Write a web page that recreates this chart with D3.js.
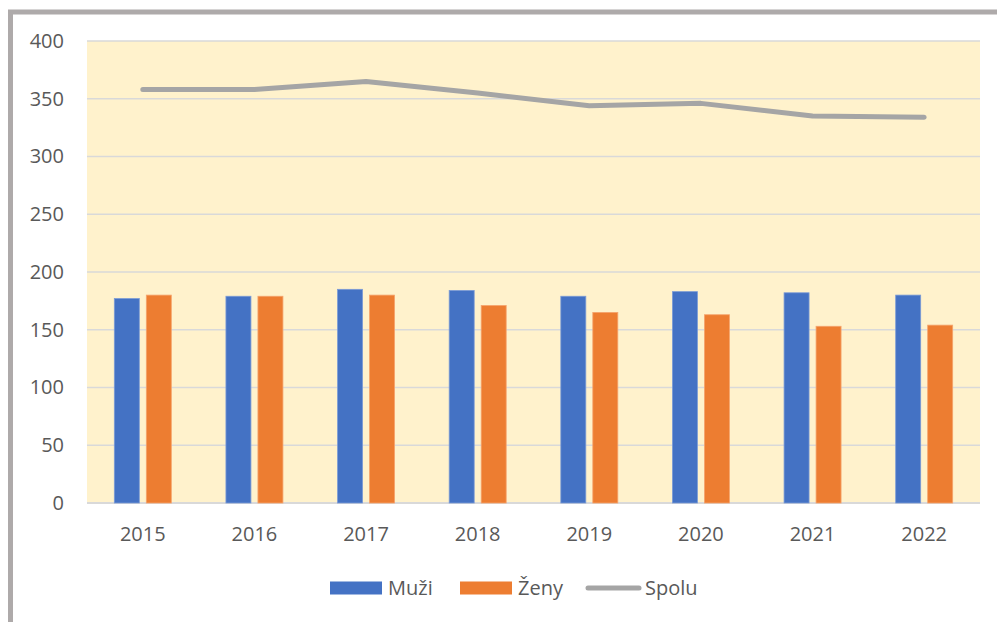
<!DOCTYPE html>
<html>
<head>
<meta charset="utf-8">
<script src="https://cdn.jsdelivr.net/npm/d3@7"></script>
<style>
  body { margin: 0; background: #fff; }
  svg { display: block; }
</style>
</head>
<body>
<div id="chart"></div>
<script>
const years = ["2015", "2016", "2017", "2018", "2019", "2020", "2021", "2022"];
const muzi = [177, 179, 185, 184, 179, 183, 182, 180];
const zeny = [180, 179, 180, 171, 165, 163, 153, 154];
const spolu = [358, 358, 365, 355, 344, 346, 335, 334];
const yTicks = [0, 50, 100, 150, 200, 250, 300, 350, 400];
const seriesNames = ["Muži", "Ženy", "Spolu"];

const W = 997, H = 622;
const margin = {top: 41, right: 17, bottom: 119, left: 87};
const colors = {"Muži": "#4472c4", "Ženy": "#ed7d31", "Spolu": "#a5a5a5"};
const labelFont = "'Open Sans', sans-serif";

const svg = d3.select("#chart").append("svg")
    .attr("width", W).attr("height", H);

// frame of the surrounding box
svg.append("path")
    .attr("d", "M10.5," + H + " L10.5,12 L" + W + ",12")
    .attr("fill", "none")
    .attr("stroke", "#aeaaaa")
    .attr("stroke-width", 5);

const x = d3.scaleBand().domain(years).range([margin.left, W - margin.right]);
const y = d3.scaleLinear().domain([0, 400]).range([H - margin.bottom, margin.top]);
const sub = d3.scaleBand().domain(["Muži", "Ženy"]).range([0, 57]).paddingInner(7 / 32);

// plot background
svg.append("rect")
    .attr("x", margin.left).attr("y", y(400))
    .attr("width", W - margin.right - margin.left)
    .attr("height", y(0) - y(400))
    .attr("fill", "#fff2cc");

// gridlines
svg.append("g")
    .selectAll("line")
    .data(yTicks)
    .enter()
    .append("line")
    .attr("x1", margin.left).attr("x2", W - margin.right)
    .attr("y1", d => y(d)).attr("y2", d => y(d))
    .attr("stroke", "#d9d9d9")
    .attr("stroke-width", d => d === 0 ? 2 : 1.5);

// y axis labels
const yAxis = svg.append("g")
    .attr("transform", "translate(64,0)")
    .call(d3.axisLeft(y).tickValues(yTicks).tickSize(0).tickPadding(0));
yAxis.select(".domain").remove();
yAxis.selectAll("text")
    .attr("fill", "#595959")
    .style("font-family", labelFont)
    .style("font-size", "20px");

// x axis labels
const xAxis = svg.append("g")
    .attr("transform", "translate(0," + y(0) + ")")
    .call(d3.axisBottom(x).tickSize(0).tickPadding(24));
xAxis.select(".domain").remove();
xAxis.selectAll("text")
    .attr("fill", "#595959")
    .style("font-family", labelFont)
    .style("font-size", "20px");

// bars
const rows = years.map((yr, i) => ({year: yr, "Muži": muzi[i], "Ženy": zeny[i]}));
const groups = svg.append("g")
    .selectAll("g")
    .data(rows)
    .enter()
    .append("g")
    .attr("transform", d => "translate(" + (x(d.year) + x.bandwidth() / 2 - 28.5) + ",0)");

groups.selectAll("rect")
    .data(d => ["Muži", "Ženy"].map(k => ({key: k, value: d[k]})))
    .enter()
    .append("rect")
    .attr("x", d => sub(d.key))
    .attr("y", d => y(d.value))
    .attr("width", sub.bandwidth())
    .attr("height", d => y(0) - y(d.value))
    .attr("fill", d => colors[d.key])
    .attr("stroke", d => d.key === "Muži" ? "#7b9bd6" : "#f5a46d")
    .attr("stroke-width", 0.8);

// total line
const line = d3.line()
    .x((d, i) => x(years[i]) + x.bandwidth() / 2)
    .y(d => y(d));
svg.append("path")
    .datum(spolu)
    .attr("d", line)
    .attr("fill", "none")
    .attr("stroke", colors["Spolu"])
    .attr("stroke-width", 5)
    .attr("stroke-linecap", "round")
    .attr("stroke-linejoin", "round");

// legend
const legendY = 588;
const legendX = [330, 460, 586];
const legend = svg.append("g");
seriesNames.forEach(function (name, i) {
    if (name === "Spolu") {
        legend.append("line")
            .attr("x1", legendX[i] + 2).attr("x2", legendX[i] + 53)
            .attr("y1", legendY).attr("y2", legendY)
            .attr("stroke", colors[name])
            .attr("stroke-width", 5)
            .attr("stroke-linecap", "round");
    } else {
        legend.append("rect")
            .attr("x", legendX[i]).attr("y", legendY - 6.5)
            .attr("width", 52).attr("height", 13)
            .attr("fill", colors[name]);
    }
    legend.append("text")
        .attr("x", legendX[i] + (name === "Spolu" ? 59 : 58))
        .attr("y", legendY)
        .attr("dy", "0.35em")
        .attr("fill", "#595959")
        .style("font-family", labelFont)
        .style("font-size", "20px")
        .text(name);
});
</script>
</body>
</html>
